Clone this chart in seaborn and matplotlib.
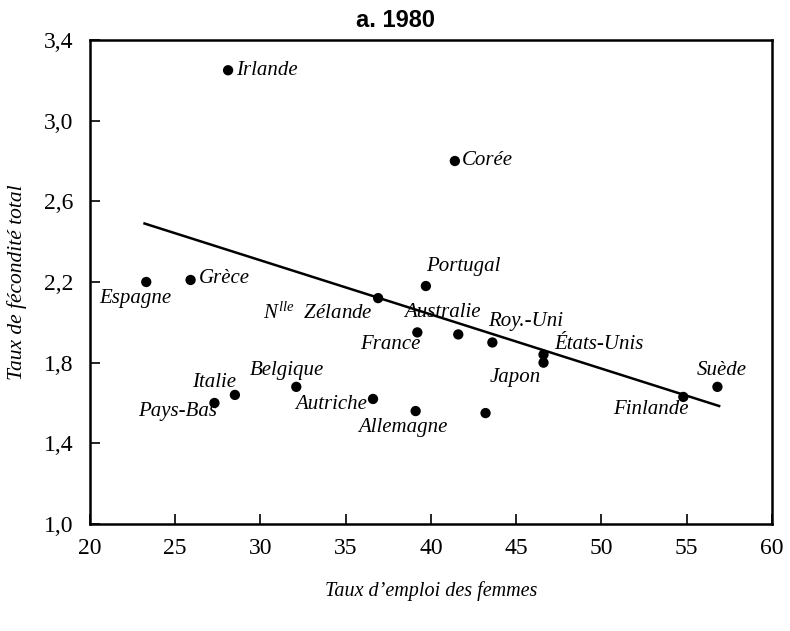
import numpy as np
import pandas as pd
import matplotlib
matplotlib.use("Agg")
import matplotlib.pyplot as plt
import seaborn as sns

# === Data ===
pays = ["Irlande", "Corée", "Espagne", "Grèce", "Portugal", "Nlle Zélande",
        "France", "Australie", "Roy.-Uni", "États-Unis", "Japon", "Suède",
        "Finlande", "Italie", "Pays-Bas", "Belgique", "Autriche", "Allemagne", ""]
emploi = [28.1, 41.4, 23.3, 25.9, 39.7, 36.9,
          39.2, 41.6, 43.6, 46.6, 46.6, 56.8,
          54.8, 28.5, 27.3, 32.1, 36.6, 39.1, 43.2]
fecondite = [3.25, 2.80, 2.20, 2.21, 2.18, 2.12,
             1.95, 1.94, 1.90, 1.84, 1.80, 1.68,
             1.63, 1.64, 1.60, 1.68, 1.62, 1.56, 1.55]

# trend line as drawn on the chart (end points)
trend_x = [23.2, 56.9]
trend_y = [2.49, 1.585]

x_ticks = [20, 25, 30, 35, 40, 45, 50, 55, 60]
y_ticks = [1.0, 1.4, 1.8, 2.2, 2.6, 3.0, 3.4]

df = pd.DataFrame({"pays": pays, "emploi": emploi, "fecondite": fecondite})
trend = pd.DataFrame({"emploi": trend_x, "fecondite": trend_y})

# label placement: (dx, dy) in points, horizontal alignment
label_pos = {
    "Irlande": (6, 0, "left"),
    "Corée": (5, 0, "left"),
    "Espagne": (-8, -12, "center"),
    "Grèce": (6, 1, "left"),
    "Portugal": (0, 14, "left"),
    "Nlle Zélande": (-4, -11, "right"),
    "France": (2, -9, "right"),
    "Australie": (16, 16, "right"),
    "Roy.-Uni": (-3, 15, "left"),
    "États-Unis": (8, 7, "left"),
    "Japon": (-20, -11, "center"),
    "Suède": (3, 12, "center"),
    "Finlande": (4, -9, "right"),
    "Italie": (1, 9, "right"),
    "Pays-Bas": (2, -6, "right"),
    "Belgique": (-7, 12, "center"),
    "Autriche": (-4, -4, "right"),
    "Allemagne": (-9, -12, "center"),
}

serif = "Liberation Serif"
plt.rcParams.update({
    "font.family": [serif, "DejaVu Serif"],
    "mathtext.fontset": "custom",
    "mathtext.rm": serif,
    "mathtext.it": serif + ":italic",
})

fig = plt.figure(figsize=(7.9, 6.31), dpi=100)
ax = fig.add_axes([0.1139, 0.1696, 0.8633, 0.767])

sns.lineplot(data=trend, x="emploi", y="fecondite", ax=ax, color="black", lw=1.8)
sns.scatterplot(data=df, x="emploi", y="fecondite", ax=ax, color="black",
                s=55, edgecolor="none", zorder=3)

for _, r in df.iterrows():
    if r["pays"] not in label_pos:
        continue
    dx, dy, ha = label_pos[r["pays"]]
    txt = r["pays"]
    if txt == "Nlle Zélande":
        txt = r"$\mathit{N}^{\mathit{lle}}$  Zélande"
    ax.annotate(txt, (r["emploi"], r["fecondite"]), xytext=(dx, dy),
                textcoords="offset points", ha=ha, va="center",
                fontsize=15, style="italic", family=serif)

ax.set_xlim(20, 60)
ax.set_ylim(1.0, 3.4)
ax.set_xticks(x_ticks)
ax.set_yticks(y_ticks)
ax.set_xticklabels([str(t) for t in x_ticks], fontsize=17)
ax.set_yticklabels([f"{t:.1f}".replace(".", ",") for t in y_ticks], fontsize=17)
ax.tick_params(axis="x", direction="in", length=7, width=1.2, pad=10, top=False)
ax.tick_params(axis="y", direction="in", length=7, width=1.2, pad=12, right=False)
for sp in ax.spines.values():
    sp.set_linewidth(1.8)
    sp.set_color("black")

ax.set_xlabel("Taux d\u2019emploi des femmes", fontsize=14.5, style="italic", labelpad=16)
ax.set_ylabel("Taux de fécondité total", fontsize=15.5, style="italic", labelpad=12)
fig.text(0.5, 0.967, "a. 1980", fontsize=17, fontweight="bold", ha="center", va="center",
         family=["Liberation Sans Narrow", "Liberation Sans", "DejaVu Sans"])

fig.savefig("out.png", dpi=100)
